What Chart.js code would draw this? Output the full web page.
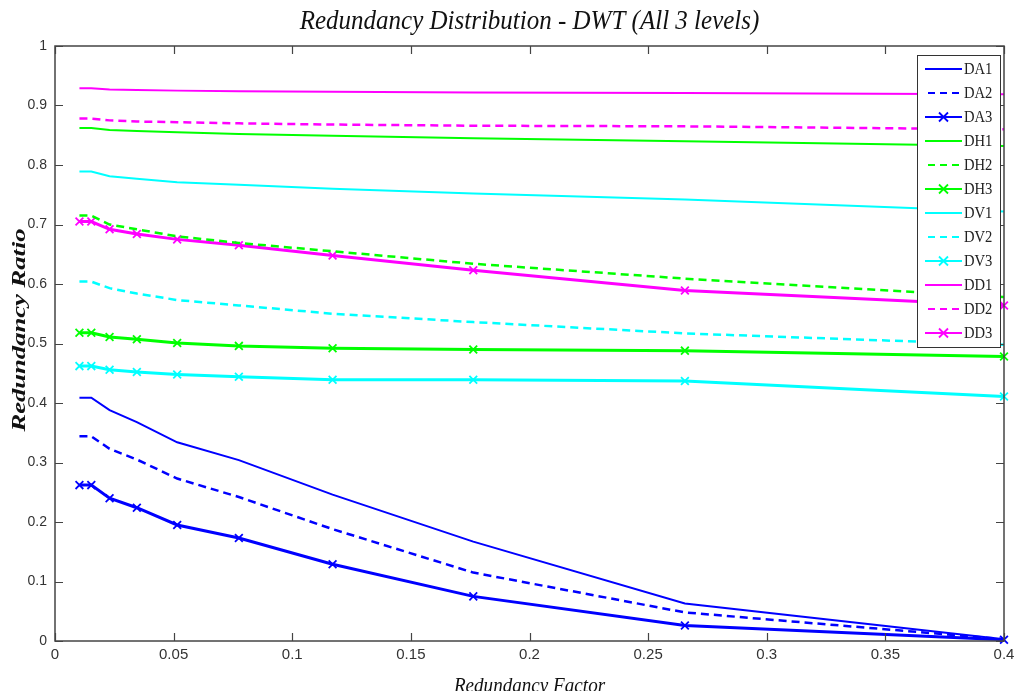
<!DOCTYPE html>
<html>
<head>
<meta charset="utf-8">
<script src="https://cdn.jsdelivr.net/npm/chart.js@4/dist/chart.umd.min.js"></script>
<style>
  html, body { margin: 0; padding: 0; background: #fff; }
  #wrap { width: 1015px; height: 691px; }
</style>
</head>
<body>
<div id="wrap"><canvas id="c" width="1015" height="691"></canvas></div>
<script>
const chartTitle = 'Redundancy Distribution - DWT (All 3 levels)';
const xTitle = 'Redundancy Factor';
const yTitle = 'Redundancy Ratio';

const xValues = [0.0103, 0.0153, 0.0230, 0.0345, 0.0515, 0.0775, 0.1170, 0.1763, 0.2655, 0.4];

const DA1 = [0.409, 0.409, 0.388, 0.368, 0.334, 0.304, 0.246, 0.167, 0.063, 0.003];
const DA2 = [0.344, 0.344, 0.323, 0.305, 0.273, 0.242, 0.188, 0.115, 0.048, 0.003];
const DA3 = [0.262, 0.262, 0.240, 0.224, 0.195, 0.173, 0.129, 0.075, 0.026, 0.002];
const DH1 = [0.862, 0.862, 0.859, 0.857, 0.855, 0.852, 0.849, 0.845, 0.840, 0.832];
const DH2 = [0.715, 0.715, 0.700, 0.692, 0.680, 0.669, 0.655, 0.634, 0.609, 0.578];
const DH3 = [0.518, 0.518, 0.511, 0.507, 0.501, 0.496, 0.492, 0.490, 0.488, 0.478];
const DV1 = [0.789, 0.789, 0.781, 0.777, 0.771, 0.767, 0.760, 0.752, 0.742, 0.722];
const DV2 = [0.604, 0.604, 0.593, 0.584, 0.573, 0.564, 0.550, 0.536, 0.517, 0.498];
const DV3 = [0.462, 0.462, 0.456, 0.452, 0.448, 0.444, 0.439, 0.439, 0.437, 0.411];
const DD1 = [0.929, 0.929, 0.927, 0.926, 0.925, 0.924, 0.923, 0.922, 0.921, 0.919];
const DD2 = [0.878, 0.878, 0.875, 0.873, 0.872, 0.870, 0.868, 0.866, 0.865, 0.860];
const DD3 = [0.705, 0.705, 0.692, 0.684, 0.675, 0.665, 0.648, 0.623, 0.589, 0.564];

const seriesNames = ['DA1','DA2','DA3','DH1','DH2','DH3','DV1','DV2','DV3','DD1','DD2','DD3'];
const seriesValues = [DA1, DA2, DA3, DH1, DH2, DH3, DV1, DV2, DV3, DD1, DD2, DD3];
const seriesColors = ['#0000ff','#0000ff','#0000ff','#00ff00','#00ff00','#00ff00','#00ffff','#00ffff','#00ffff','#ff00ff','#ff00ff','#ff00ff'];
const seriesKinds = ['solid','dash','mark','solid','dash','mark','solid','dash','mark','solid','dash','mark'];

const xTicks = [0, 0.05, 0.1, 0.15, 0.2, 0.25, 0.3, 0.35, 0.4];
const yTicks = [0, 0.1, 0.2, 0.3, 0.4, 0.5, 0.6, 0.7, 0.8, 0.9, 1];

const DASH = [8, 5];

const datasets = seriesNames.map((name, i) => {
  const kind = seriesKinds[i];
  return {
    label: name,
    data: xValues.map((x, j) => ({ x: x, y: seriesValues[i][j] })),
    borderColor: seriesColors[i],
    backgroundColor: seriesColors[i],
    borderWidth: kind === 'mark' ? 3 : (kind === 'dash' ? 2.5 : 2),
    borderDash: kind === 'dash' ? DASH : [],
    pointStyle: 'crossRot',
    pointRadius: kind === 'mark' ? 5.5 : 0,
    pointBorderWidth: 1.8,
    pointHoverRadius: kind === 'mark' ? 5.5 : 0,
    tension: 0,
    fill: false,
    clip: false,
    _kind: kind
  };
});

function scaledText(ctx, text, x, y, font, sx, sy, angle) {
  ctx.save();
  ctx.translate(x, y);
  if (angle) ctx.rotate(angle);
  ctx.scale(sx, sy);
  ctx.font = font;
  ctx.fillText(text, 0, 0);
  ctx.restore();
}

const decor = {
  id: 'decor',
  afterDatasetsDraw(chart) {
    const ctx = chart.ctx;
    const a = chart.chartArea;
    const xs = chart.scales.x, ys = chart.scales.y;
    ctx.save();
    // box
    ctx.strokeStyle = '#444';
    ctx.lineWidth = 1.5;
    ctx.strokeRect(a.left, a.top, a.right - a.left, a.bottom - a.top);
    // inward ticks
    const tl = 8;
    ctx.lineWidth = 1.2;
    ctx.beginPath();
    xTicks.forEach(v => {
      const px = Math.round(xs.getPixelForValue(v)) + 0.5;
      ctx.moveTo(px, a.bottom); ctx.lineTo(px, a.bottom - tl);
      ctx.moveTo(px, a.top); ctx.lineTo(px, a.top + tl);
    });
    yTicks.forEach(v => {
      const py = Math.round(ys.getPixelForValue(v)) + 0.5;
      ctx.moveTo(a.left, py); ctx.lineTo(a.left + tl, py);
      ctx.moveTo(a.right, py); ctx.lineTo(a.right - tl, py);
    });
    ctx.stroke();

    // legend
    const lx = 917, ly = 55, lw = 83, rowH = 24, lh = 12 * rowH + 4;
    ctx.fillStyle = '#fff';
    ctx.fillRect(lx, ly, lw, lh);
    ctx.strokeStyle = '#333';
    ctx.lineWidth = 1;
    ctx.strokeRect(lx + 0.5, ly + 0.5, lw, lh);
    ctx.textBaseline = 'middle';
    ctx.textAlign = 'left';
    chart.data.datasets.forEach((ds, i) => {
      const y = ly + 14 + i * rowH;
      ctx.strokeStyle = ds.borderColor;
      ctx.lineWidth = ds._kind === 'mark' ? 2.2 : 2;
      ctx.setLineDash(ds._kind === 'dash' ? [7, 5] : []);
      ctx.beginPath();
      if (ds._kind === 'dash') { ctx.moveTo(928, y); ctx.lineTo(962, y); }
      else { ctx.moveTo(925, y); ctx.lineTo(962, y); }
      ctx.stroke();
      ctx.setLineDash([]);
      if (ds._kind === 'mark') {
        const cx = 943.5, r = 4.5;
        ctx.lineWidth = 1.8;
        ctx.beginPath();
        ctx.moveTo(cx - r, y - r); ctx.lineTo(cx + r, y + r);
        ctx.moveTo(cx - r, y + r); ctx.lineTo(cx + r, y - r);
        ctx.stroke();
      }
      ctx.fillStyle = '#222';
      scaledText(ctx, ds.label, 964, y + 1, '17px "Liberation Serif", "Times New Roman", serif', 0.86, 1, 0);
    });

    // title
    ctx.fillStyle = '#111';
    ctx.textAlign = 'center';
    ctx.textBaseline = 'alphabetic';
    const cx = (a.left + a.right) / 2;
    scaledText(ctx, chartTitle, cx, 29, 'italic 28px "Liberation Serif", "Times New Roman", serif', 0.893, 1, 0);
    // x title
    scaledText(ctx, xTitle, cx, 692, 'italic 21px "Liberation Serif", "Times New Roman", serif', 0.91, 1, 0);
    // y title
    scaledText(ctx, yTitle, 25, 330, 'italic bold 19px "Liberation Serif", "Times New Roman", serif', 1.4, 1, -Math.PI / 2);
    ctx.restore();
  }
};

new Chart(document.getElementById('c'), {
  type: 'line',
  data: { datasets: datasets },
  plugins: [decor],
  options: {
    responsive: false,
    animation: false,
    events: [],
    layout: { padding: { left: 0, right: 11, top: 46, bottom: 0 } },
    plugins: {
      legend: { display: false },
      title: { display: false },
      tooltip: { enabled: false }
    },
    scales: {
      x: {
        type: 'linear',
        min: 0, max: 0.4,
        afterBuildTicks(scale) { scale.ticks = xTicks.map(v => ({ value: v })); },
        afterFit(scale) { scale.height = 50; scale.paddingLeft = 0; scale.paddingRight = 0; },
        grid: { display: false, drawTicks: false },
        border: { display: false },
        ticks: {
          padding: 5,
          color: '#333',
          font: { family: '"Liberation Sans", Arial, sans-serif', size: 15 },
          maxRotation: 0,
          autoSkip: false,
          callback: (v) => String(Math.round(v * 100) / 100)
        }
      },
      y: {
        type: 'linear',
        min: 0, max: 1,
        afterBuildTicks(scale) { scale.ticks = yTicks.map(v => ({ value: v })); },
        afterFit(scale) { scale.width = 55; scale.paddingTop = 0; scale.paddingBottom = 0; },
        grid: { display: false, drawTicks: false },
        border: { display: false },
        ticks: {
          padding: 8,
          color: '#333',
          font: { family: '"Liberation Sans", Arial, sans-serif', size: 14 },
          autoSkip: false,
          callback: (v) => String(Math.round(v * 10) / 10)
        }
      }
    }
  }
});
</script>
</body>
</html>
